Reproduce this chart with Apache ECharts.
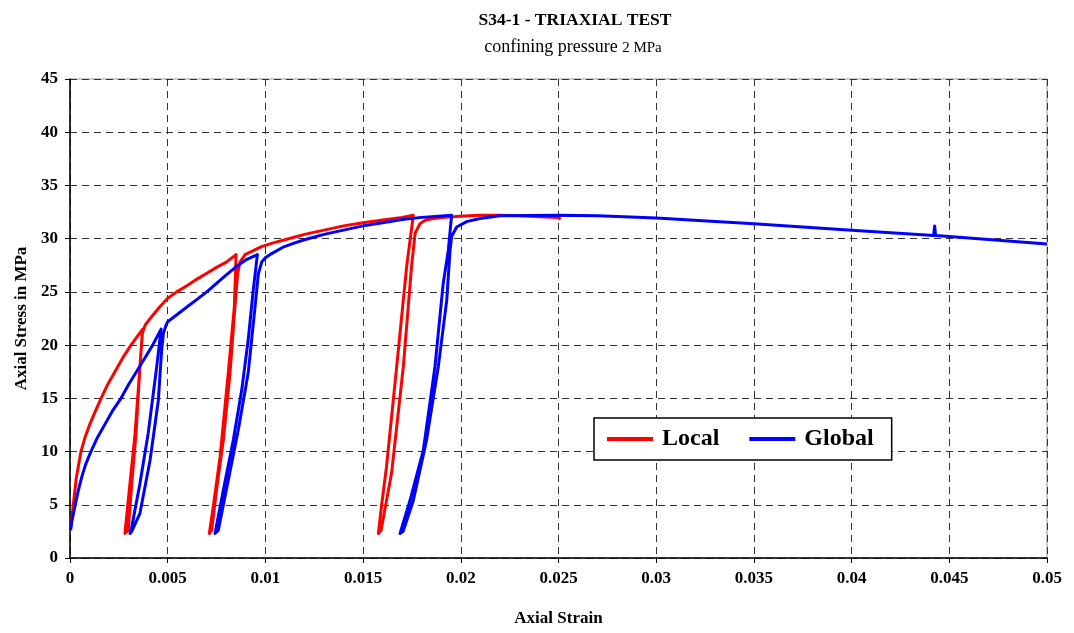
<!DOCTYPE html>
<html>
<head>
<meta charset="utf-8">
<title>S34-1 - TRIAXIAL TEST</title>
<script src="https://cdn.jsdelivr.net/npm/echarts@6/dist/echarts.min.js"></script>
<style>
  html, body { margin: 0; padding: 0; background: #fff; }
  #chart { width: 1074px; height: 633px; }
</style>
</head>
<body>
<div id="chart"></div>
<script>
// Axial strain / axial stress (MPa) readings, including three unload-reload loops.
const localCurve = [
  [0.00003, 2.8], [0.00009, 3.6], [0.00017, 5.0], [0.00032, 7.5], [0.00056, 10.0],
  [0.00078, 11.4], [0.001, 12.5], [0.0013, 13.8], [0.00159, 15.0], [0.0019, 16.2],
  [0.0023, 17.5], [0.0027, 18.8], [0.00312, 20.0], [0.00372, 21.5],
  // first unloading / reloading
  [0.00358, 18.0], [0.00333, 11.7], [0.00307, 7.0], [0.00281, 2.3],
  [0.00298, 2.6], [0.00316, 7.0], [0.00338, 11.7], [0.00358, 18.0], [0.0037, 21.1],
  [0.00385, 21.9], [0.0041, 22.5], [0.0046, 23.6], [0.005, 24.4], [0.00546, 25.0],
  [0.006, 25.6], [0.0065, 26.2], [0.007, 26.75], [0.0075, 27.3], [0.008, 27.8],
  [0.0085, 28.5],
  // second unloading / reloading
  [0.00841, 23.6], [0.0081, 17.4], [0.00768, 9.5], [0.00733, 4.8], [0.00713, 2.3],
  [0.00725, 2.6], [0.0075, 6.4], [0.00785, 11.1], [0.00819, 17.4], [0.00844, 23.6],
  [0.00858, 26.7], [0.0087, 27.8], [0.00896, 28.5], [0.0093, 28.8], [0.0098, 29.25],
  [0.0104, 29.6], [0.011, 29.9], [0.012, 30.4], [0.013, 30.8], [0.014, 31.2],
  [0.015, 31.5], [0.016, 31.75], [0.017, 32.0], [0.01757, 32.2],
  // third unloading / reloading
  [0.01723, 27.4], [0.01672, 18.0], [0.0162, 8.6], [0.01595, 5.0], [0.01578, 2.3],
  [0.01592, 2.6], [0.01646, 8.0], [0.01706, 18.0], [0.01748, 27.4], [0.01766, 30.5],
  [0.01791, 31.4], [0.0182, 31.75], [0.01859, 31.9], [0.0192, 32.0], [0.01996, 32.1],
  [0.021, 32.2], [0.022, 32.2], [0.023, 32.15], [0.024, 32.05], [0.025, 32.0],
  [0.0251, 31.8]
];

const globalCurve = [
  [0.00003, 2.6], [0.0001, 3.5], [0.00027, 5.0], [0.00042, 6.3], [0.0006, 7.6],
  [0.0008, 8.8], [0.00107, 10.0], [0.0014, 11.3], [0.0018, 12.6], [0.0022, 13.9],
  [0.00261, 15.0], [0.003, 16.3], [0.0034, 17.5], [0.0038, 18.7], [0.00423, 20.0],
  [0.00466, 21.5],
  // first unloading / reloading
  [0.00444, 18.0], [0.004, 11.7], [0.00358, 7.0], [0.00316, 2.9], [0.00307, 2.3],
  [0.00316, 2.5], [0.00358, 4.2], [0.0041, 9.2], [0.00452, 14.8], [0.00469, 19.5],
  [0.00478, 21.1], [0.0049, 21.8], [0.005, 22.2], [0.0055, 22.9], [0.006, 23.6],
  [0.0065, 24.3], [0.007, 25.0], [0.0075, 25.8], [0.008, 26.6], [0.00853, 27.4],
  [0.009, 28.0], [0.00959, 28.5],
  // second unloading / reloading
  [0.00938, 25.2], [0.00912, 20.5], [0.00879, 15.8], [0.00836, 11.1], [0.00785, 6.4],
  [0.00742, 2.3], [0.00759, 2.6], [0.0081, 7.3], [0.00861, 12.0], [0.00912, 17.4],
  [0.00947, 23.6], [0.00964, 26.7], [0.00981, 27.8], [0.01, 28.2], [0.01032, 28.6],
  [0.0109, 29.2], [0.01151, 29.6], [0.012, 29.9], [0.013, 30.4], [0.014, 30.8],
  [0.015, 31.2], [0.016, 31.5], [0.017, 31.8], [0.018, 32.0], [0.01953, 32.2],
  // third unloading / reloading
  [0.01936, 28.9], [0.0191, 25.8], [0.01868, 18.0], [0.01808, 10.1], [0.0174, 5.4],
  [0.01689, 2.3], [0.01705, 2.5], [0.01757, 5.4], [0.01825, 11.1], [0.01885, 18.0],
  [0.01928, 24.2], [0.01945, 28.9], [0.01953, 30.2], [0.01979, 31.1], [0.0203, 31.6],
  [0.02098, 31.9], [0.022, 32.15], [0.025, 32.2], [0.027, 32.15], [0.03, 31.95],
  [0.035, 31.4], [0.04, 30.8], [0.0442, 30.3], [0.04425, 31.2], [0.0443, 30.3],
  [0.045, 30.2], [0.05, 29.5]
];

const seriesNames = ['Local', 'Global'];
const xTickLabels = ['0', '0.005', '0.01', '0.015', '0.02', '0.025', '0.03', '0.035', '0.04', '0.045', '0.05'];
const yTickLabels = ['0', '5', '10', '15', '20', '25', '30', '35', '40', '45'];

const serif = 'Liberation Serif, Times New Roman, serif';
const chart = echarts.init(document.getElementById('chart'), null, { renderer: 'canvas' });

chart.setOption({
  backgroundColor: '#fff',
  animation: false,
  title: [
    {
      text: 'S34-1 - TRIAXIAL TEST',
      left: 570, top: 6, textAlign: 'center',
      textStyle: { fontFamily: serif, fontWeight: 'bold', fontSize: 17.5, color: '#000' }
    },
    {
      text: '{a|confining pressure }{b|2 MPa}',
      left: 568, top: 31, textAlign: 'center',
      textStyle: {
        color: '#000', fontWeight: 'normal',
        rich: {
          a: { fontFamily: serif, fontWeight: 'normal', fontSize: 18, color: '#000', lineHeight: 20, verticalAlign: 'bottom' },
          b: { fontFamily: serif, fontWeight: 'normal', fontSize: 15, color: '#000', lineHeight: 20, verticalAlign: 'bottom' }
        }
      }
    }
  ],
  legend: {
    data: seriesNames,
    left: 594, top: 418,
    orient: 'horizontal',
    icon: 'rect',
    itemWidth: 46, itemHeight: 4,
    itemGap: 30,
    padding: [9, 18, 9, 13],
    backgroundColor: '#fff',
    borderColor: '#000',
    borderWidth: 1.5,
    textStyle: { fontFamily: serif, fontWeight: 'bold', fontSize: 24, color: '#000', padding: [0, 0, 0, 4] }
  },
  grid: {
    left: 70, right: 27, top: 79, bottom: 75,
    show: true, borderColor: '#999', borderWidth: 1, backgroundColor: 'transparent'
  },
  xAxis: {
    type: 'value', min: 0, max: 0.05, interval: 0.005,
    name: 'Axial Strain', nameLocation: 'middle', nameGap: 52,
    nameTextStyle: { fontFamily: serif, fontWeight: 'bold', fontSize: 17, color: '#000' },
    axisLine: { show: true, onZero: false, lineStyle: { color: '#000', width: 1.5 } },
    axisTick: { show: true, length: 5, lineStyle: { color: '#000' } },
    axisLabel: {
      margin: 12, fontFamily: serif, fontWeight: 'bold', fontSize: 17, color: '#000',
      formatter: v => xTickLabels[Math.round(v / 0.005)]
    },
    splitLine: { show: true, lineStyle: { color: '#333', type: [7, 5], width: 1 } }
  },
  yAxis: {
    type: 'value', min: 0, max: 45, interval: 5,
    name: 'Axial Stress in MPa', nameLocation: 'middle', nameGap: 40, nameRotate: 90,
    nameTextStyle: { fontFamily: serif, fontWeight: 'bold', fontSize: 17, color: '#000' },
    axisLine: { show: true, lineStyle: { color: '#000', width: 1.5 } },
    axisTick: { show: true, length: 5, lineStyle: { color: '#000' } },
    axisLabel: {
      margin: 12, fontFamily: serif, fontWeight: 'bold', fontSize: 17, color: '#000',
      formatter: v => yTickLabels[Math.round(v / 5)]
    },
    splitLine: { show: true, lineStyle: { color: '#333', type: [7, 5], width: 1 } }
  },
  series: [
    {
      name: seriesNames[0], type: 'line', data: localCurve,
      showSymbol: false, symbol: 'none',
      lineStyle: { color: '#ff0000', width: 3, join: 'round' },
      itemStyle: { color: '#ff0000' }, z: 2
    },
    {
      name: seriesNames[1], type: 'line', data: globalCurve,
      showSymbol: false, symbol: 'none',
      lineStyle: { color: '#0000ff', width: 3, join: 'round' },
      itemStyle: { color: '#0000ff' }, z: 3
    }
  ]
});
</script>
</body>
</html>
